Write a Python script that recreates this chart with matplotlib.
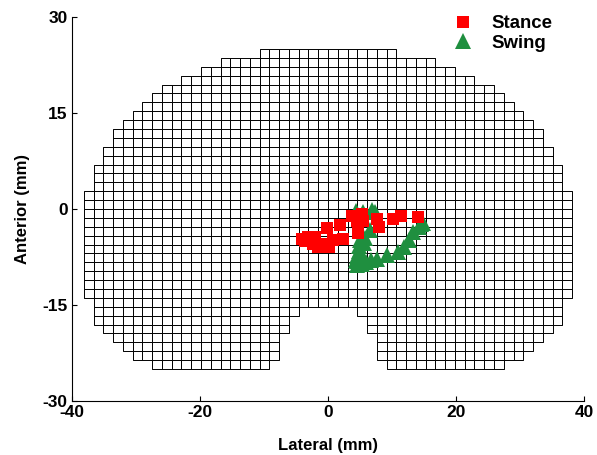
"""
Tibial plateau contact grid with stance / swing contact points.
"""

import matplotlib
matplotlib.use("Agg")
import matplotlib.pyplot as plt
from matplotlib.collections import PatchCollection
from matplotlib.patches import Rectangle

plt.rcParams["font.family"] = ["Liberation Sans", "DejaVu Sans"]
plt.rcParams["font.weight"] = "bold"
plt.rcParams["axes.unicode_minus"] = False

# grid extent (mm) and cell count
GRID_X = (-38.15, 38.15)
GRID_Y = (-25.0, 25.0)
N_COLS = 50
N_ROWS = 36

# occupied column spans [start, end) per row, top row first
ROW_SPANS = [
    [(18, 32)], [(14, 36)], [(12, 38)], [(10, 40)], [(8, 42)], [(7, 43)],
    [(6, 44)], [(5, 45)], [(4, 46)], [(3, 47)], [(3, 47)], [(2, 48)],
    [(2, 48)], [(1, 49)], [(1, 49)], [(1, 49)],
    [(0, 50)], [(0, 50)], [(0, 50)], [(0, 50)], [(0, 50)], [(0, 50)],
    [(0, 50)], [(0, 50)], [(0, 50)], [(0, 50)], [(0, 50)], [(0, 50)],
    [(1, 49)],
    [(1, 22), (28, 49)],
    [(1, 21), (29, 49)],
    [(2, 21), (29, 48)],
    [(3, 20), (30, 47)],
    [(4, 20), (30, 46)],
    [(5, 20), (30, 45)],
    [(7, 19), (31, 43)],
]

stance_x = [-4.1, -3.1, -2.0, -1.5, -0.7, -0.2, 0.8, 2.4, 1.9, 3.7, 4.5,
            5.5, 4.7, 7.6, 7.9, 10.2, 11.4, 14.1, -2.3, 0.1, 5.3, -3.6]
stance_y = [-4.7, -4.3, -4.3, -6.0, -5.4, -3.0, -4.8, -4.7, -2.5, -1.1, -1.8,
            -1.8, -3.8, -1.5, -2.8, -1.6, -1.1, -1.3, -5.4, -5.9, -0.8, -5.0]

swing_x = [4.4, 5.5, 6.8, 7.3, 6.5, 5.8, 5.0, 4.9, 4.8, 4.6, 4.5, 4.6, 5.3,
           6.0, 7.6, 9.2, 11.0, 11.8, 12.6, 13.3, 14.2, 14.6, 14.9, 5.2, 5.6,
           4.3, 5.1, 6.7]
swing_y = [-0.3, -0.4, -0.2, -0.5, -3.3, -4.6, -4.9, -5.8, -6.6, -7.4, -8.2,
           -8.8, -8.6, -8.3, -7.8, -7.2, -6.7, -5.9, -4.9, -3.6, -2.8, -2.4,
           -2.2, -7.0, -5.3, -8.0, -7.8, -8.0]

x_ticks = [-40, -20, 0, 20, 40]
y_ticks = [-30, -15, 0, 15, 30]

_RED = "#FF0000"
_GREEN = "#1F8F3F"

fig = plt.figure(figsize=(5.97, 4.55), dpi=100)
ax = fig.add_axes([0.1206, 0.1187, 0.8576, 0.8439])

dx = (GRID_X[1] - GRID_X[0]) / N_COLS
dy = (GRID_Y[1] - GRID_Y[0]) / N_ROWS
cells = []
for row, spans in enumerate(ROW_SPANS):
    y0 = GRID_Y[1] - (row + 1) * dy
    for start, end in spans:
        for col in range(start, end):
            cells.append(Rectangle((GRID_X[0] + col * dx, y0), dx, dy))
ax.add_collection(PatchCollection(cells, facecolor="white", edgecolor="black",
                                  linewidth=0.7, zorder=1))

swing, = ax.plot(swing_x, swing_y, "^", color=_GREEN, markersize=11,
                 markeredgewidth=0, linestyle="none", zorder=2, label="Swing")
stance, = ax.plot(stance_x, stance_y, "s", color=_RED, markersize=8,
                  markeredgewidth=0, linestyle="none", zorder=3, label="Stance")

ax.set_xlim(-40, 40)
ax.set_ylim(-30, 30)
ax.set_xticks(x_ticks)
ax.set_yticks(y_ticks)
ax.tick_params(direction="in", length=3.6, width=0.8, labelsize=12.5, pad=3)
for lab in ax.get_xticklabels() + ax.get_yticklabels():
    lab.set_fontweight("bold")
for side in ("top", "right"):
    ax.spines[side].set_visible(False)
for side in ("left", "bottom"):
    ax.spines[side].set_linewidth(0.8)

ax.set_xlabel("Lateral (mm)", fontsize=12, fontweight="bold", labelpad=13)
ax.set_ylabel("Anterior (mm)", fontsize=12, fontweight="bold", labelpad=9)

leg = ax.legend([stance, swing], ["Stance", "Swing"], loc="upper left",
                bbox_to_anchor=(0.736, 1.005), frameon=False, numpoints=1,
                handlelength=1.5, handletextpad=0.8, labelspacing=0.15,
                borderpad=0, borderaxespad=0,
                prop={"size": 13.4, "weight": "bold"})

fig.savefig("out.png", dpi=100)
